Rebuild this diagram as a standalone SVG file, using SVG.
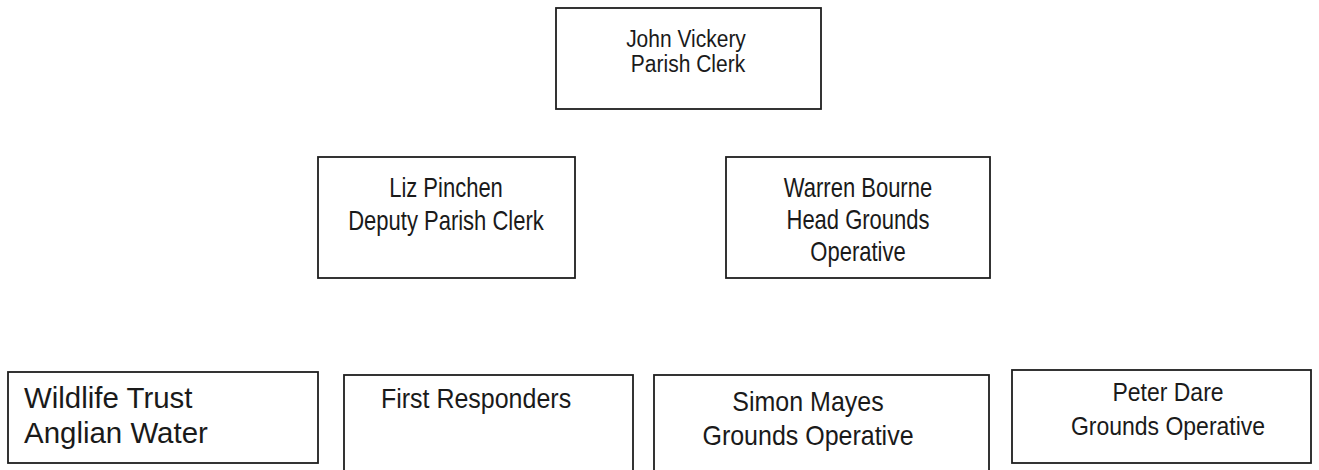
<svg xmlns="http://www.w3.org/2000/svg" width="1319" height="470" viewBox="0 0 1319 470">
<style>
rect{fill:#fff;stroke:#1e1e1e;stroke-width:1.8}
text{font-family:"Liberation Sans",Arial,sans-serif;fill:#1a1a1a;text-anchor:middle}
.s1{font-size:21px}.s2{font-size:22px}.s3{font-size:25px}.s4{font-size:23px}.s5{font-size:31px;text-anchor:start}
</style>
<rect x="0" y="0" width="1319" height="470" style="fill:#fff;stroke:none"/>
<g id="connectors"></g>
<g id="john"><rect x="556" y="8" width="265" height="101"/>
<text class="s1" transform="translate(686,47) scale(1,1.15)">John Vickery</text>
<text class="s1" transform="translate(688,72) scale(1,1.15)">Parish Clerk</text></g>
<g id="liz"><rect x="318" y="157" width="257" height="121"/>
<text class="s2" transform="translate(446,197) scale(1,1.25)">Liz Pinchen</text>
<text class="s2" transform="translate(446,230) scale(1,1.25)">Deputy Parish Clerk</text></g>
<g id="warren"><rect x="726" y="157" width="264" height="121"/>
<text class="s2" transform="translate(858,197) scale(1,1.25)">Warren Bourne</text>
<text class="s2" transform="translate(858,229) scale(1,1.25)">Head Grounds</text>
<text class="s2" transform="translate(858,261) scale(1,1.25)">Operative</text></g>
<g id="wildlife"><rect x="8" y="372" width="310" height="91"/>
<text class="s5" transform="translate(24,408) scale(0.95,0.97)">Wildlife Trust</text>
<text class="s5" transform="translate(24,443) scale(0.95,0.97)">Anglian Water</text></g>
<g id="first"><rect x="344" y="375" width="289" height="100"/>
<text class="s3" transform="translate(476,408) scale(1,1.1)">First Responders</text></g>
<g id="simon"><rect x="654" y="375" width="335" height="100"/>
<text class="s3" transform="translate(808,411) scale(1,1.1)">Simon Mayes</text>
<text class="s3" transform="translate(808,445) scale(1,1.1)">Grounds Operative</text></g>
<g id="peter"><rect x="1012" y="370" width="299" height="93"/>
<text class="s4" transform="translate(1168,401) scale(1,1.15)">Peter Dare</text>
<text class="s4" transform="translate(1168,435) scale(1,1.15)">Grounds Operative</text></g>
</svg>
